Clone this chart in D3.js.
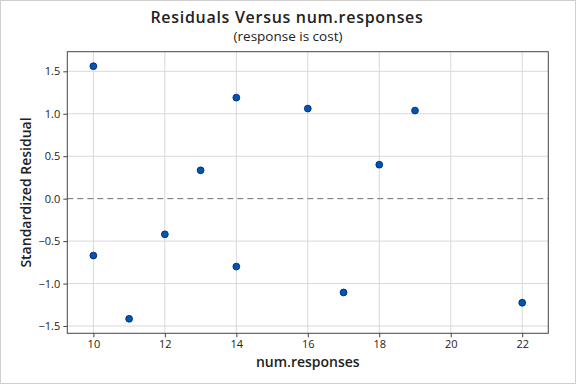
<!DOCTYPE html>
<html><head><meta charset="utf-8">
<script src="https://cdn.jsdelivr.net/npm/d3@7"></script>
<style>body{margin:0;background:#fff}svg{display:block}text{font-family:"Open Sans",sans-serif;fill:#222}</style>
</head><body>
<script>
const numResponses = [10, 10, 11, 12, 13, 14, 14, 16, 17, 18, 19, 22];
const stdResidual  = [1.56, -0.67, -1.415, -0.42, 0.334, 1.19, -0.80, 1.061, -1.105, 0.40, 1.038, -1.226];
const xTicks = [10, 12, 14, 16, 18, 20, 22];
const yTicks = [-1.5, -1.0, -0.5, 0.0, 0.5, 1.0, 1.5];

const W = 576, H = 384;
const L = 67.3, R = 548.3, T = 51.7, B = 333.3;
const svg = d3.select("body").append("svg").attr("width", W).attr("height", H);
svg.append("rect").attr("x",0.5).attr("y",0.5).attr("width",W-1).attr("height",H-1).attr("fill","#fff").attr("stroke","#d0d0d0");

const x = d3.scaleLinear().domain([9.27, 22.73]).range([L, R]);
const y = d3.scaleLinear().domain([-1.586, 1.731]).range([B, T]);

// grid
svg.append("g").selectAll("line").data(xTicks).join("line")
  .attr("x1", d=>x(d)).attr("x2", d=>x(d)).attr("y1", T).attr("y2", B)
  .attr("stroke","#d9d9d9").attr("stroke-width",1);
svg.append("g").selectAll("line").data(yTicks.filter(d=>d!==0)).join("line")
  .attr("x1", L).attr("x2", R).attr("y1", d=>y(d)).attr("y2", d=>y(d))
  .attr("stroke","#d9d9d9").attr("stroke-width",1);
// zero reference
svg.append("line").attr("x1",L).attr("x2",R).attr("y1",y(0)).attr("y2",y(0))
  .attr("stroke","#707070").attr("stroke-width",1).attr("stroke-dasharray","6,4");

// frame
svg.append("rect").attr("x",L).attr("y",T).attr("width",R-L).attr("height",B-T)
  .attr("fill","none").attr("stroke","#444").attr("stroke-width",1);

// axes
const xa = svg.append("g").attr("transform",`translate(0,${B})`)
  .call(d3.axisBottom(x).tickValues(xTicks).tickSize(4).tickPadding(3).tickFormat(d3.format("d")));
const ya = svg.append("g").attr("transform",`translate(${L},0)`)
  .call(d3.axisLeft(y).tickValues(yTicks).tickSize(4).tickPadding(3).tickFormat(d3.format(".1f")));
[xa, ya].forEach(g=>{
  g.select(".domain").remove();
  g.selectAll(".tick line").attr("stroke","#444");
  g.selectAll(".tick text").attr("font-size",11).attr("fill","#222").attr("font-family","'Open Sans',sans-serif");
});

// points
svg.append("g").selectAll("circle").data(numResponses.map((v,i)=>[v, stdResidual[i]])).join("circle")
  .attr("cx", d=>x(d[0])).attr("cy", d=>y(d[1])).attr("r",3.4)
  .attr("fill","#0057b0").attr("stroke","#00267a").attr("stroke-width",0.9);

// titles
svg.append("text").attr("x",287).attr("y",23).attr("text-anchor","middle")
  .attr("font-size",16).attr("font-weight",600).attr("letter-spacing",0.7).text("Residuals Versus num.responses");
svg.append("text").attr("x",288).attr("y",41).attr("text-anchor","middle")
  .attr("font-size",13.5).text("(response is cost)");
svg.append("text").attr("x",(L+R)/2).attr("y",367).attr("text-anchor","middle")
  .attr("font-size",14).attr("font-weight",600).text("num.responses");
svg.append("text").attr("transform",`translate(31,${(T+B)/2}) rotate(-90)`).attr("text-anchor","middle")
  .attr("font-size",14).attr("font-weight",600).text("Standardized Residual");
</script>
</body></html>
